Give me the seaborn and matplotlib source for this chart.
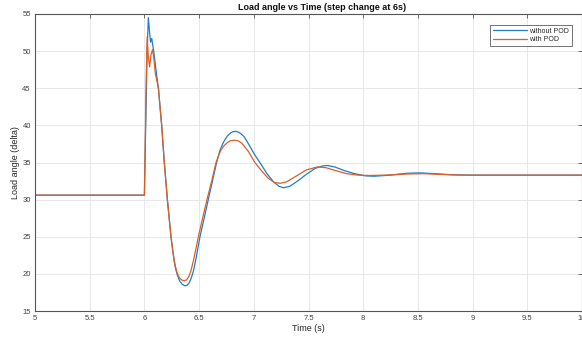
import numpy as np
import pandas as pd
import matplotlib
matplotlib.use("Agg")
import matplotlib.pyplot as plt
import seaborn as sns

# ---- data ----
t_without = [5.0, 6.0, 6.012, 6.025, 6.036, 6.046, 6.056, 6.067, 6.085, 6.11, 6.128,
             6.158, 6.182, 6.21, 6.243, 6.258, 6.272, 6.285, 6.30, 6.32, 6.345, 6.37,
             6.39, 6.41, 6.43, 6.45, 6.475, 6.508, 6.546, 6.584, 6.622, 6.66, 6.69,
             6.715, 6.737, 6.76, 6.79, 6.81, 6.834, 6.86, 6.88, 6.91, 6.94, 7.01, 7.06,
             7.12, 7.18, 7.23, 7.27, 7.33, 7.40, 7.48, 7.56, 7.62, 7.67, 7.74, 7.83,
             7.92, 8.02, 8.10, 8.25, 8.40, 8.52, 8.65, 8.80, 9.0, 10.0]
v_without = [30.6, 30.6, 40.0, 50.0, 54.5, 52.8, 51.2, 51.7, 50.0, 47.0, 45.0,
             40.0, 35.0, 30.0, 25.0, 23.2, 21.7, 20.7, 19.9, 19.1, 18.6, 18.4,
             18.45, 18.8, 19.5, 20.5, 22.3, 25.0, 27.5, 30.0, 32.5, 35.0, 36.6,
             37.5, 38.1, 38.6, 39.0, 39.15, 39.2, 39.1, 38.9, 38.5, 37.8, 36.0, 34.9,
             33.5, 32.4, 31.8, 31.6, 31.8, 32.5, 33.4, 34.2, 34.5, 34.6, 34.4, 33.9,
             33.5, 33.2, 33.15, 33.3, 33.55, 33.6, 33.5, 33.35, 33.3, 33.3]

t_with = [5.0, 6.0, 6.008, 6.016, 6.025, 6.037, 6.048, 6.06, 6.074, 6.085, 6.10, 6.128,
          6.158, 6.182, 6.21, 6.243, 6.258, 6.272, 6.285, 6.30, 6.32, 6.345, 6.365,
          6.385, 6.405, 6.425, 6.45, 6.47, 6.493, 6.532, 6.572, 6.615, 6.655, 6.68,
          6.70, 6.73, 6.76, 6.79, 6.83, 6.86, 6.89, 6.95, 7.01, 7.07, 7.13, 7.19,
          7.24, 7.30, 7.38, 7.48, 7.58, 7.66, 7.75, 7.85, 7.95, 8.05, 8.20, 8.40,
          8.55, 8.70, 8.90, 10.0]
v_with = [30.6, 30.6, 38.0, 46.0, 51.9, 49.0, 47.9, 49.5, 50.2, 49.2, 47.0, 45.0,
          40.0, 35.0, 30.0, 25.0, 23.3, 21.9, 20.9, 20.1, 19.45, 19.15, 19.06,
          19.2, 19.6, 20.4, 21.9, 23.3, 25.0, 27.5, 30.0, 32.5, 35.0, 36.0,
          36.7, 37.3, 37.7, 37.95, 38.0, 37.9, 37.6, 36.5, 35.0, 33.9, 32.9, 32.3,
          32.2, 32.4, 33.1, 34.0, 34.4, 34.3, 33.9, 33.5, 33.3, 33.25, 33.3, 33.45,
          33.5, 33.4, 33.3, 33.3]

series_names = ["without POD", "with POD"]
x_ticks = [5, 5.5, 6, 6.5, 7, 7.5, 8, 8.5, 9, 9.5, 10]
x_tick_labels = ["5", "5.5", "6", "6.5", "7", "7.5", "8", "8.5", "9", "9.5", "10"]
y_ticks = [15, 20, 25, 30, 35, 40, 45, 50, 55]

df = pd.concat([
    pd.DataFrame({"t": t_without, "v": v_without, "s": series_names[0]}),
    pd.DataFrame({"t": t_with, "v": v_with, "s": series_names[1]}),
], ignore_index=True)

sns.set_style("white")
plt.rcParams["font.family"] = ["Liberation Sans", "DejaVu Sans"]

fig = plt.figure(figsize=(5.82, 3.39), dpi=100)
ax = fig.add_axes([35 / 582, 28 / 339, 547 / 582, 297 / 339])

sns.lineplot(data=df, x="t", y="v", hue="s", hue_order=series_names,
             palette=["#1f7fc4", "#dc5f28"], sort=False, estimator=None,
             linewidth=0.9, ax=ax)

ax.set_xlim(5, 10)
ax.set_ylim(15, 55)
ax.set_xticks(x_ticks)
ax.set_xticklabels(x_tick_labels)
ax.set_yticks(y_ticks)
ax.grid(True, color="#e4e4e4", linewidth=0.6)
ax.set_axisbelow(True)
for sp in ax.spines.values():
    sp.set_color("#555555")
    sp.set_linewidth(0.8)
ax.tick_params(direction="in", length=3, width=0.6, colors="#555555",
               labelsize=5.5, labelcolor="#404040", top=True, right=True, pad=3)

ax.set_xlabel("Time (s)", fontsize=6.5, color="#262626", labelpad=1)
ax.set_ylabel("Load angle (delta)", fontsize=6.5, color="#262626", labelpad=2)
ax.set_title("Load angle vs Time (step change at 6s)", fontsize=6.5,
             fontweight="bold", color="#111111", pad=3, x=0.525)

leg = ax.legend(loc="upper right", fontsize=5, frameon=True, fancybox=False,
                handlelength=5, borderpad=0.4, labelspacing=0.2,
                handletextpad=0.3, bbox_to_anchor=(0.988, 0.975))
leg.get_frame().set_edgecolor("#333333")
leg.get_frame().set_linewidth(0.6)

fig.savefig("out.png", dpi=100)
